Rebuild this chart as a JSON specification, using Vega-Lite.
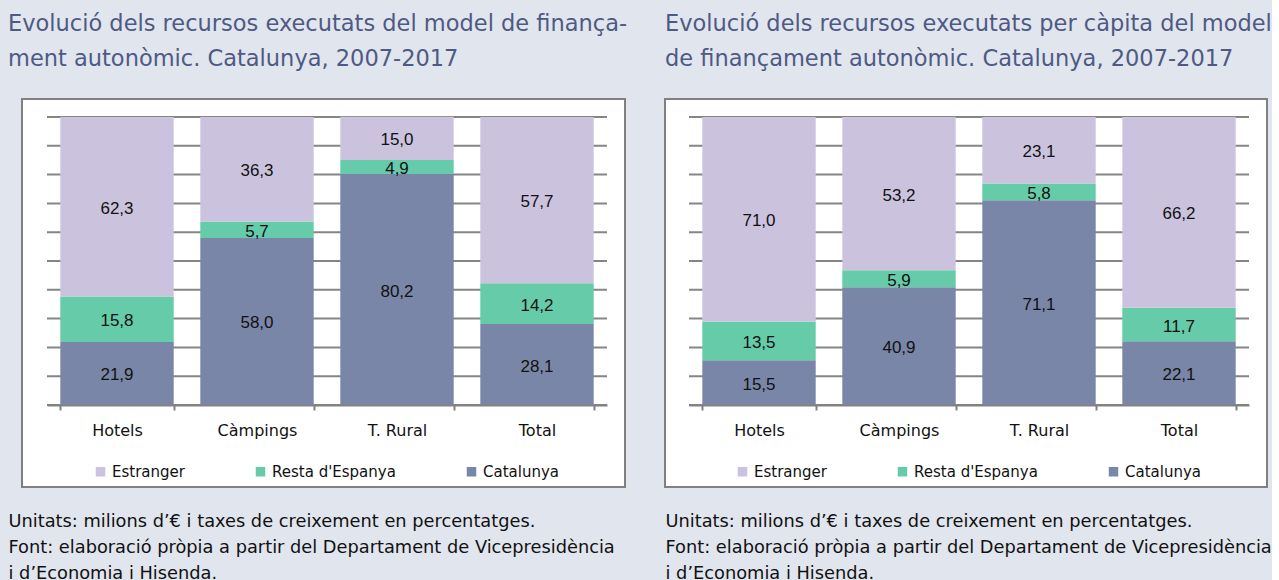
{
  "$schema": "https://vega.github.io/schema/vega-lite/v6.json",
  "background": "#e1e5ee",
  "padding": {"left": 8, "top": 12, "right": 0, "bottom": 0},
  "config": {
    "locale": {"number": {"decimal": ",", "thousands": ".", "grouping": [3], "currency": ["", " €"]}},
    "view": {"stroke": null},
    "font": "DejaVu Sans"
  },
  "datasets": {
    "abs": [
      {"cat": "Hotels", "origen": "Catalunya", "v": 21.9},
      {"cat": "Hotels", "origen": "Resta d'Espanya", "v": 15.8},
      {"cat": "Hotels", "origen": "Estranger", "v": 62.3},
      {"cat": "Càmpings", "origen": "Catalunya", "v": 58.0},
      {"cat": "Càmpings", "origen": "Resta d'Espanya", "v": 5.7},
      {"cat": "Càmpings", "origen": "Estranger", "v": 36.3},
      {"cat": "T. Rural", "origen": "Catalunya", "v": 80.2},
      {"cat": "T. Rural", "origen": "Resta d'Espanya", "v": 4.9},
      {"cat": "T. Rural", "origen": "Estranger", "v": 15.0},
      {"cat": "Total", "origen": "Catalunya", "v": 28.1},
      {"cat": "Total", "origen": "Resta d'Espanya", "v": 14.2},
      {"cat": "Total", "origen": "Estranger", "v": 57.7}
    ],
    "cap": [
      {"cat": "Hotels", "origen": "Catalunya", "v": 15.5},
      {"cat": "Hotels", "origen": "Resta d'Espanya", "v": 13.5},
      {"cat": "Hotels", "origen": "Estranger", "v": 71.0},
      {"cat": "Càmpings", "origen": "Catalunya", "v": 40.9},
      {"cat": "Càmpings", "origen": "Resta d'Espanya", "v": 5.9},
      {"cat": "Càmpings", "origen": "Estranger", "v": 53.2},
      {"cat": "T. Rural", "origen": "Catalunya", "v": 71.1},
      {"cat": "T. Rural", "origen": "Resta d'Espanya", "v": 5.8},
      {"cat": "T. Rural", "origen": "Estranger", "v": 23.1},
      {"cat": "Total", "origen": "Catalunya", "v": 22.1},
      {"cat": "Total", "origen": "Resta d'Espanya", "v": 11.7},
      {"cat": "Total", "origen": "Estranger", "v": 66.2}
    ],
    "grid": [{"g": 0}, {"g": 10}, {"g": 20}, {"g": 30}, {"g": 40}, {"g": 50}, {"g": 60}, {"g": 70}, {"g": 80}, {"g": 90}, {"g": 100}],
    "marc": [{"marc": "caixa"}]
  },
  "bounds": "flush",
  "spacing": 82,
  "resolve": {"scale": {"color": "independent"}, "legend": {"color": "independent"}},
  "hconcat": [
    {
      "width": 560,
      "height": 288,
      "title": {
        "text": ["Evolució dels recursos executats del model de finança-", "ment autonòmic. Catalunya, 2007-2017"],
        "anchor": "start", "frame": "group", "dx": -39, "offset": 28,
        "font": "DejaVu Sans", "fontSize": 22.5, "fontWeight": "normal", "color": "#4e5a83", "lineHeight": 35
      },
      "layer": [
        {
          "data": {"name": "marc"},
          "mark": {"type": "rect", "fill": "#ffffff", "stroke": "#808080", "strokeWidth": 2},
          "encoding": {
            "x": {"datum": 0, "type": "quantitative", "scale": {"domain": [0, 1], "range": [-25, 578]}, "axis": null},
            "x2": {"datum": 1},
            "y": {"datum": 0, "type": "quantitative", "scale": {"domain": [0, 1], "range": [370, -18]}, "axis": null},
            "y2": {"datum": 1}
          }
        },
        {
          "data": {"name": "abs"},
          "transform": [
            {"calculate": "indexof(['Catalunya', \"Resta d'Espanya\", 'Estranger'], datum.origen)", "as": "o"},
            {"stack": "v", "groupby": ["cat"], "sort": [{"field": "o", "order": "ascending"}], "as": ["v0", "v1"]},
            {"calculate": "(datum.v0 + datum.v1) / 2", "as": "mid"}
          ],
          "layer": [
            {
              "data": {"name": "grid"},
              "mark": {"type": "rule", "color": "#858585", "strokeWidth": 2},
              "encoding": {"y": {"field": "g", "type": "quantitative", "scale": {"domain": [0, 100]}, "axis": null}}
            },
            {
              "mark": {"type": "bar"},
              "encoding": {
                "x": {
                  "field": "cat", "type": "nominal", "sort": ["Hotels", "Càmpings", "T. Rural", "Total"],
                  "scale": {"paddingInner": 0.19, "paddingOuter": 0.095},
                  "axis": {
                    "title": ["Unitats: milions d’€ i taxes de creixement en percentatges.", "Font: elaboració pròpia a partir del Departament de Vicepresidència", "i d’Economia i Hisenda."],
                    "titleFont": "DejaVu Sans", "titleFontSize": 17.8, "titleFontWeight": "normal", "titleColor": "#111111",
                    "titleLineHeight": 26, "titleX": -39, "titleY": 121, "titleAnchor": "start", "titleAlign": "left", "titleBaseline": "alphabetic",
                    "labelFont": "DejaVu Sans", "labelFontSize": 16, "labelColor": "#111111", "labelAngle": 0, "labelPadding": 12,
                    "domainColor": "#828282", "domainWidth": 2, "tickColor": "#828282", "tickWidth": 2, "tickSize": 5,
                    "tickBand": "extent", "zindex": 1
                  }
                },
                "y": {"field": "v0", "type": "quantitative", "scale": {"domain": [0, 100]}, "axis": null},
                "y2": {"field": "v1"},
                "color": {
                  "field": "origen", "type": "nominal",
                  "scale": {"domain": ["Estranger", "Resta d'Espanya", "Catalunya"], "range": ["#cbc3de", "#66cba9", "#7a86a8"]},
                  "legend": {
                    "orient": "none", "legendX": 46, "legendY": 347, "direction": "horizontal", "title": null,
                    "symbolType": "square", "symbolSize": 90, "symbolStrokeWidth": 0,
                    "labelFont": "DejaVu Sans", "labelFontSize": 15, "labelColor": "#111111", "labelOffset": 4,
                    "columnPadding": 68, "padding": 0, "zindex": 1
                  }
                }
              }
            },
            {
              "mark": {"type": "text", "font": "Liberation Sans", "fontSize": 17, "color": "#111111", "baseline": "middle", "dy": 2},
              "encoding": {
                "x": {"field": "cat", "type": "nominal", "sort": ["Hotels", "Càmpings", "T. Rural", "Total"]},
                "y": {"field": "mid", "type": "quantitative"},
                "text": {"field": "v", "type": "quantitative", "format": ".1f"}
              }
            }
          ]
        }
      ],
      "resolve": {"scale": {"x": "independent", "y": "independent"}}
    },
    {
      "width": 560,
      "height": 288,
      "title": {
        "text": ["Evolució dels recursos executats per càpita del model", "de finançament autonòmic. Catalunya, 2007-2017"],
        "anchor": "start", "frame": "group", "dx": -24, "offset": 28,
        "font": "DejaVu Sans", "fontSize": 22.5, "fontWeight": "normal", "color": "#4e5a83", "lineHeight": 35
      },
      "layer": [
        {
          "data": {"name": "marc"},
          "mark": {"type": "rect", "fill": "#ffffff", "stroke": "#808080", "strokeWidth": 2},
          "encoding": {
            "x": {"datum": 0, "type": "quantitative", "scale": {"domain": [0, 1], "range": [-24, 578]}, "axis": null},
            "x2": {"datum": 1},
            "y": {"datum": 0, "type": "quantitative", "scale": {"domain": [0, 1], "range": [370, -18]}, "axis": null},
            "y2": {"datum": 1}
          }
        },
        {
          "data": {"name": "cap"},
          "transform": [
            {"calculate": "indexof(['Catalunya', \"Resta d'Espanya\", 'Estranger'], datum.origen)", "as": "o"},
            {"stack": "v", "groupby": ["cat"], "sort": [{"field": "o", "order": "ascending"}], "as": ["v0", "v1"]},
            {"calculate": "(datum.v0 + datum.v1) / 2", "as": "mid"}
          ],
          "layer": [
            {
              "data": {"name": "grid"},
              "mark": {"type": "rule", "color": "#858585", "strokeWidth": 2},
              "encoding": {"y": {"field": "g", "type": "quantitative", "scale": {"domain": [0, 100]}, "axis": null}}
            },
            {
              "mark": {"type": "bar"},
              "encoding": {
                "x": {
                  "field": "cat", "type": "nominal", "sort": ["Hotels", "Càmpings", "T. Rural", "Total"],
                  "scale": {"paddingInner": 0.19, "paddingOuter": 0.095},
                  "axis": {
                    "title": ["Unitats: milions d’€ i taxes de creixement en percentatges.", "Font: elaboració pròpia a partir del Departament de Vicepresidència", "i d’Economia i Hisenda."],
                    "titleFont": "DejaVu Sans", "titleFontSize": 17.8, "titleFontWeight": "normal", "titleColor": "#111111",
                    "titleLineHeight": 26, "titleX": -24, "titleY": 121, "titleAnchor": "start", "titleAlign": "left", "titleBaseline": "alphabetic",
                    "labelFont": "DejaVu Sans", "labelFontSize": 16, "labelColor": "#111111", "labelAngle": 0, "labelPadding": 12,
                    "domainColor": "#828282", "domainWidth": 2, "tickColor": "#828282", "tickWidth": 2, "tickSize": 5,
                    "tickBand": "extent", "zindex": 1
                  }
                },
                "y": {"field": "v0", "type": "quantitative", "scale": {"domain": [0, 100]}, "axis": null},
                "y2": {"field": "v1"},
                "color": {
                  "field": "origen", "type": "nominal",
                  "scale": {"domain": ["Estranger", "Resta d'Espanya", "Catalunya"], "range": ["#cbc3de", "#66cba9", "#7a86a8"]},
                  "legend": {
                    "orient": "none", "legendX": 46, "legendY": 347, "direction": "horizontal", "title": null,
                    "symbolType": "square", "symbolSize": 90, "symbolStrokeWidth": 0,
                    "labelFont": "DejaVu Sans", "labelFontSize": 15, "labelColor": "#111111", "labelOffset": 4,
                    "columnPadding": 68, "padding": 0, "zindex": 1
                  }
                }
              }
            },
            {
              "mark": {"type": "text", "font": "Liberation Sans", "fontSize": 17, "color": "#111111", "baseline": "middle", "dy": 2},
              "encoding": {
                "x": {"field": "cat", "type": "nominal", "sort": ["Hotels", "Càmpings", "T. Rural", "Total"]},
                "y": {"field": "mid", "type": "quantitative"},
                "text": {"field": "v", "type": "quantitative", "format": ".1f"}
              }
            }
          ]
        }
      ],
      "resolve": {"scale": {"x": "independent", "y": "independent"}}
    }
  ]
}
